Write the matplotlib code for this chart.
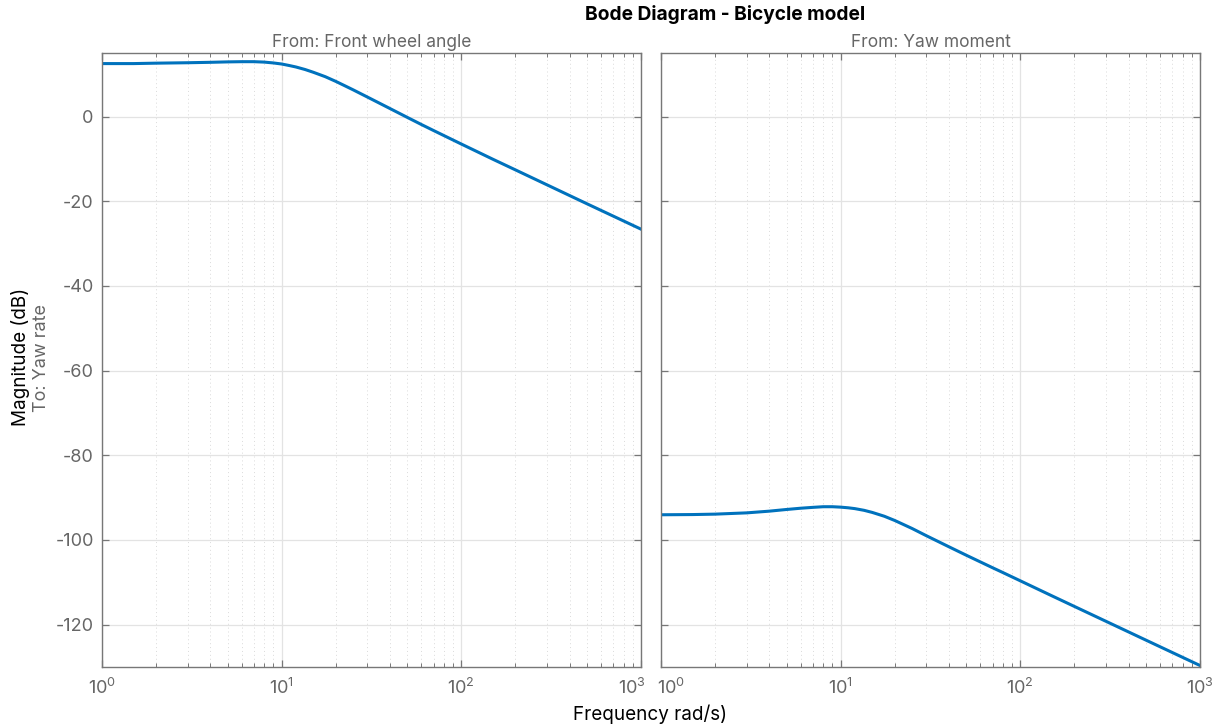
import matplotlib
matplotlib.use("Agg")
import matplotlib.pyplot as plt
from matplotlib.ticker import LogLocator, FixedLocator, NullFormatter
from matplotlib.transforms import ScaledTranslation

plt.rcParams['font.family'] = ['Inter', 'DejaVu Sans']
plt.rcParams['mathtext.fontset'] = 'custom'
plt.rcParams['mathtext.rm'] = 'Inter'
plt.rcParams['mathtext.it'] = 'Inter'
plt.rcParams['axes.unicode_minus'] = False

# Frequency (rad/s) and magnitude (dB) of the yaw-rate responses
freq = [1, 1.5, 2, 3, 4, 5, 6, 7, 8, 9, 10, 11, 12, 13.5, 15, 17.5, 20, 22.5,
        25, 30, 40, 50, 60, 70, 80, 100, 150, 200, 500, 1000]
mag_front_wheel = [12.5, 12.5, 12.6, 12.7, 12.8, 12.9, 12.95, 12.95, 12.85, 12.65,
                   12.4, 12.05, 11.7, 11.1, 10.45, 9.4, 8.3, 7.25,
                   6.3, 4.6, 1.9, -0.2, -1.9, -3.3, -4.5, -6.5, -10.1, -12.6,
                   -20.6, -26.6]
mag_yaw_moment = [-94.05, -94.0, -93.9, -93.6, -93.2, -92.8, -92.5, -92.3, -92.15,
                  -92.15, -92.25, -92.4, -92.6, -93.0, -93.5, -94.4, -95.4, -96.4,
                  -97.3, -99.0, -101.6, -103.6, -105.2, -106.55, -107.7, -109.65,
                  -113.2, -115.7, -123.65, -129.65]

inputs = ["From: Front wheel angle", "From: Yaw moment"]
series = [mag_front_wheel, mag_yaw_moment]
yticks = [0, -20, -40, -60, -80, -100, -120]
xtick_labels = ["$10^{0}$", "$10^{1}$", "$10^{2}$", "$10^{3}$"]

line_color = "#0072BD"
text_gray = "#666666"
axis_gray = "#777777"

fig = plt.figure(figsize=(12.29, 7.27), dpi=100)
W, H = 1229, 727
lefts = [102, 661]
ax_w = 539
top_px, bot_px = 53, 667

for i, (name, mag) in enumerate(zip(inputs, series)):
    ax = fig.add_axes([lefts[i] / W, 1 - bot_px / H, ax_w / W, (bot_px - top_px) / H])
    ax.plot(freq, mag, color=line_color, lw=2.2, solid_joinstyle='round')
    ax.set_xscale('log')
    ax.set_xlim(1, 1000)
    ax.set_ylim(-130, 15)
    ax.set_yticks(yticks)
    ax.xaxis.set_major_locator(FixedLocator([1, 10, 100, 1000]))
    ax.set_xticklabels(xtick_labels)
    ax.xaxis.set_minor_locator(LogLocator(base=10, subs=range(2, 10), numticks=20))
    ax.xaxis.set_minor_formatter(NullFormatter())
    ax.grid(True, which='major', color='#e3e3e3', lw=0.9, ls='-')
    ax.grid(True, which='minor', axis='x', color='#dadada', lw=0.7, ls=(0, (1, 3)))
    ax.set_axisbelow(True)
    ax.tick_params(which='both', direction='in', top=True, right=True,
                   colors=axis_gray, labelcolor=text_gray, labelsize=13)
    ax.tick_params(which='major', length=5, width=0.9)
    ax.tick_params(which='minor', length=3, width=0.7)
    ax.tick_params(axis='x', which='major', pad=8)
    ax.tick_params(axis='y', which='major', pad=6)
    for sp in ax.spines.values():
        sp.set_color(axis_gray)
        sp.set_linewidth(1.0)
    labels = ax.get_xticklabels()
    if i == 0:
        labels[-1].set_ha('right')
        labels[-1].set_transform(labels[-1].get_transform()
                                 + ScaledTranslation(5 / 100, 0, fig.dpi_scale_trans))
    else:
        ax.set_yticklabels([])
        labels[0].set_ha('left')
        labels[0].set_transform(labels[0].get_transform()
                                + ScaledTranslation(-4 / 100, 0, fig.dpi_scale_trans))
    ax.set_title(name, color=text_gray, fontsize=12.5, pad=4)

fig.text(725 / W, 1 - 15 / H, "Bode Diagram - Bicycle model", ha='center', va='center',
         fontsize=13.8, fontweight='bold', color='black')
fig.text(21 / W, 1 - 357 / H, "Magnitude (dB)", rotation=90, ha='center', va='center',
         fontsize=13.6, color='black')
fig.text(42 / W, 1 - 358 / H, "To: Yaw rate", rotation=90, ha='center', va='center',
         fontsize=13, color=text_gray)
fig.text(650 / W, 1 - 714 / H, "Frequency rad/s)", ha='center', va='center',
         fontsize=13.6, color='black')

fig.savefig("out.png", dpi=100, facecolor='white')
